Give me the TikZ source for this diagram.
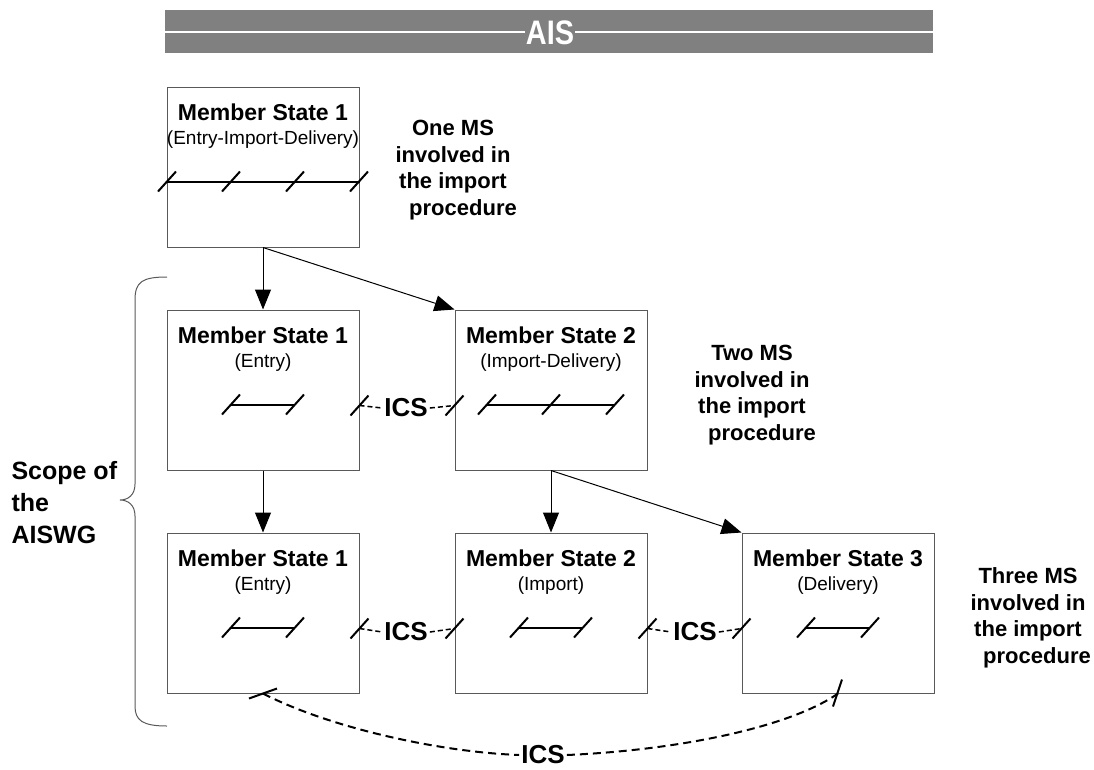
\documentclass[tikz,border=0pt]{standalone}
\usepackage{fontspec}
\setmainfont{Liberation Sans}
\usetikzlibrary{arrows.meta,calc}
\tikzset{
  tick/.pic={\draw[line width=2pt] (-9,10) -- (9,-10);}
}
\begin{document}
\begin{tikzpicture}[x=1pt,y=-1pt,
  box/.style={draw=black!65,line width=1pt,minimum width=192pt,minimum height=160pt,inner sep=0pt},
  title/.style={font=\fontsize{23}{26}\selectfont\bfseries},
  sub/.style={font=\fontsize{19}{22}\selectfont},
  flow/.style={-{Triangle[length=20pt,width=16pt]},line width=1pt},
  chan/.style={line width=2pt},
  ics/.style={font=\fontsize{26}{30}\selectfont\bfseries,inner sep=2pt},
  dashlink/.style={line width=1.5pt,dash pattern=on 5pt off 3pt},
  longdash/.style={line width=2pt,dash pattern=on 8pt off 5pt},
  note/.style={font=\fontsize{22}{26.5}\selectfont\bfseries,align=center},
]
\useasboundingbox (0,0) rectangle (1094,769);

% header bar
\fill[gray] (165,10) rectangle (933,53);
\draw[white,line width=2pt] (165,32) -- (933,32);
\node[fill=gray,text=white,font=\fontsize{34}{38}\selectfont\bfseries,inner xsep=1pt,inner ysep=0pt,xscale=0.85,transform shape] (ais) at (550,33) {AIS};

% member state boxes
\node[box] (a1) at (263,167) {};
\node[box] (b1) at (263,390) {};
\node[box] (b2) at (551,390) {};
\node[box] (c1) at (263,613) {};
\node[box] (c2) at (551,613) {};
\node[box] (c3) at (838,613) {};

% titles and roles
\node[title] (a1t) at ($(a1.north)+(0,26)$) {Member State 1};
\node[sub]   (a1s) at ($(a1.north)+(0,53)$) {(Entry-Import-Delivery)};
\node[title] (b1t) at ($(b1.north)+(0,26)$) {Member State 1};
\node[sub]   (b1s) at ($(b1.north)+(0,53)$) {(Entry)};
\node[title] (b2t) at ($(b2.north)+(0,26)$) {Member State 2};
\node[sub]   (b2s) at ($(b2.north)+(0,53)$) {(Import-Delivery)};
\node[title] (c1t) at ($(c1.north)+(0,26)$) {Member State 1};
\node[sub]   (c1s) at ($(c1.north)+(0,53)$) {(Entry)};
\node[title] (c2t) at ($(c2.north)+(0,26)$) {Member State 2};
\node[sub]   (c2s) at ($(c2.north)+(0,53)$) {(Import)};
\node[title] (c3t) at ($(c3.north)+(0,26)$) {Member State 3};
\node[sub]   (c3s) at ($(c3.north)+(0,53)$) {(Delivery)};

% internal procedure lines
\draw[chan] ($(a1.north west)+(0,95)$) -- ($(a1.north east)+(0,95)$);
\foreach \dx in {-96,-32,32,96} \pic at ($(a1.north)+(\dx,95)$) {tick};
\draw[chan] ($(b1.north)+(-32,95)$) -- ($(b1.north)+(32,95)$);
\foreach \dx in {-32,32} \pic at ($(b1.north)+(\dx,95)$) {tick};
\draw[chan] ($(b2.north)+(-64,95)$) -- ($(b2.north)+(64,95)$);
\foreach \dx in {-64,0,64} \pic at ($(b2.north)+(\dx,95)$) {tick};
\foreach \n in {c1,c2,c3}{
  \draw[chan] ($(\n.north)+(-32,95)$) -- ($(\n.north)+(32,95)$);
  \foreach \dx in {-32,32} \pic at ($(\n.north)+(\dx,95)$) {tick};
}

% flow arrows
\draw[flow] (a1.south) -- (b1.north);
\draw[flow] (a1.south) -- (b2.north west);
\draw[flow] (b1.south) -- (c1.north);
\draw[flow] (b2.south) -- (c2.north);
\draw[flow] (b2.south) -- (c3.north west);

% ICS links between neighbouring states
\node[ics] (i1) at (406,408) {ICS};
\coordinate (k1) at ($(b1.north east)+(0,96)$);
\coordinate (k2) at ($(b2.north west)+(0,96)$);
\pic at (k1) {tick}; \pic at (k2) {tick};
\draw[dashlink] (k1) -- (i1.west);
\draw[dashlink] (i1.east) -- (k2);

\node[ics] (i2) at (406,632) {ICS};
\coordinate (k3) at ($(c1.north east)+(0,96)$);
\coordinate (k4) at ($(c2.north west)+(0,96)$);
\pic at (k3) {tick}; \pic at (k4) {tick};
\draw[dashlink] (k3) -- (i2.west);
\draw[dashlink] (i2.east) -- (k4);

\node[ics] (i3) at (695,632) {ICS};
\coordinate (k5) at ($(c2.north east)+(0,96)$);
\coordinate (k6) at ($(c3.north west)+(0,96)$);
\pic at (k5) {tick}; \pic at (k6) {tick};
\draw[dashlink] (k5) -- (i3.west);
\draw[dashlink] (i3.east) -- (k6);

% long ICS link from state 1 to state 3
\node[ics] (i4) at (543,755) {ICS};
\coordinate (k7) at (c1.south);
\coordinate (k8) at (c3.south);
\draw[line width=2pt] ($(k7)+(-14,5)$) -- ($(k7)+(14,-5)$);
\draw[line width=2pt] ($(k8)+(-5,13)$) -- ($(k8)+(4,-14)$);
\draw[longdash] (k7) .. controls (330,728) and (440,752) .. (i4.west);
\draw[longdash] (i4.east) .. controls (680,750) and (790,727) .. (k8);

% scope brace
\draw[black!65,line width=1pt] (167,277) .. controls (142,277) and (135,282) .. (135,300)
  -- (135,484) .. controls (135,495) and (128,500) .. (120,500)
  .. controls (128,500) and (135,505) .. (135,516)
  -- (135,706) .. controls (135,720) and (142,726) .. (167,726);
\node[font=\fontsize{25}{32}\selectfont\bfseries,align=left,anchor=west] (scope) at (8,503) {Scope of\\the\\AISWG};

% side notes
\node[note] (n1) at (453,170) {One MS\\involved in\\the import\\\hspace*{20pt}procedure};
\node[note] (n2) at (752,395) {Two MS\\involved in\\the import\\\hspace*{20pt}procedure};
\node[note] (n3) at (1028,618) {Three MS\\involved in\\the import\\\hspace*{18pt}procedure};
\end{tikzpicture}
\end{document}
